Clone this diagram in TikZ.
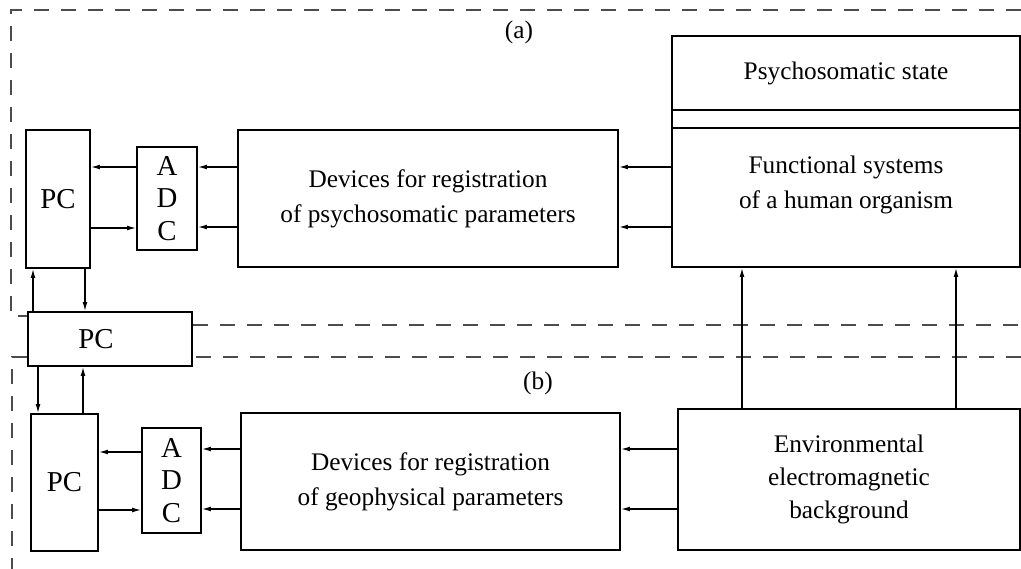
\documentclass[tikz,border=0pt]{standalone}
\usepackage{fontspec}
\setmainfont{Liberation Serif}
\usetikzlibrary{arrows.meta}

\begin{document}
\begin{tikzpicture}[x=0.025cm, y=-0.025cm,
        box/.style={draw, line width=1.4pt, inner sep=0pt, align=center,
            font=\fontsize{18}{25}\selectfont},
        arr/.style={-{Latex[length=2.2mm,width=1.2mm]}, line width=0.9pt},
        frame/.style={draw=black!70, line width=1.4pt, dash pattern=on 0.375cm off 0.3cm}]
    \useasboundingbox (0,0) rectangle (1021,569);

    % Part (a)
    \node[box, minimum width=1.6cm, minimum height=3.45cm, font=\fontsize{20.5}{24}\selectfont] (pcA) at (58,199) {PC};
    \node[box, minimum width=1.5cm, minimum height=2.575cm, font=\fontsize{20.5}{23}\selectfont] (adcA) at (167,198.5) {A\\D\\C};
    \node[box, minimum width=9.5cm, minimum height=3.425cm] (devA) at (428,198.5)
        {Devices for registration\\of psychosomatic parameters};
    \node[box, minimum width=8.7cm, minimum height=1.85cm] (state) at (846,73) {Psychosomatic state};
    \node[box, minimum width=8.7cm, minimum height=0.45cm] (band) at (846,119) {};
    \node[box, minimum width=8.7cm, minimum height=3.475cm] (org) at (846,197.5) {};
    \node[align=center, font=\fontsize{18}{25.5}\selectfont] at (846,185)
        {Functional systems\\of a human organism};
    \node[font=\fontsize{18}{22}\selectfont] (labA) at (519,32) {(a)};

    % Common PC
    \node[box, minimum width=4.1cm, minimum height=1.35cm, font=\fontsize{20.5}{24}\selectfont] (pc) at (110,339) {PC\hspace{0.7cm}};

    % Part (b)
    \node[box, minimum width=1.675cm, minimum height=3.425cm, font=\fontsize{20.5}{24}\selectfont] (pcB) at (64.5,482.5) {PC};
    \node[box, minimum width=1.475cm, minimum height=2.625cm, font=\fontsize{20.5}{23}\selectfont] (adcB) at (171.5,480.5) {A\\D\\C};
    \node[box, minimum width=9.475cm, minimum height=3.425cm] (devB) at (430.5,481.5)
        {Devices for registration\\of geophysical parameters};
    \node[box, minimum width=8.55cm, minimum height=3.525cm, font=\fontsize{18}{23.5}\selectfont] (env) at (849,479.5)
        {Environmental\\electromagnetic\\background};
    \node[font=\fontsize{18}{22}\selectfont] (labB) at (538,383) {(b)};

    % Dashed frames
    \draw[frame] (1021,10) -- (11,10) -- (11,316) -- (pc.west |- 0,316);
    \draw[frame] (pc.east |- 0,325) -- (1021,325);
    \draw[frame] (1021,357) -- (pc.east |- 0,357);
    \draw[frame] (pc.west |- 0,357) -- (12,357) -- (12,569);

    % Signal flow (a)
    \foreach \y in {167,227} {
        \draw[arr] (org.west |- 0,\y) -- (devA.east |- 0,\y);
        \draw[arr] (devA.west |- 0,\y) -- (adcA.east |- 0,\y);
    }
    \draw[arr] (adcA.west |- 0,167) -- (pcA.east |- 0,167);
    \draw[arr] (pcA.east |- 0,228) -- (adcA.west |- 0,228);

    % Signal flow (b)
    \foreach \y in {449,509} {
        \draw[arr] (env.west |- 0,\y) -- (devB.east |- 0,\y);
        \draw[arr] (devB.west |- 0,\y) -- (adcB.east |- 0,\y);
    }
    \draw[arr] (adcB.west |- 0,452) -- (pcB.east |- 0,452);
    \draw[arr] (pcB.east |- 0,510) -- (adcB.west |- 0,510);

    % Background acts on the organism
    \foreach \x in {742,956}
        \draw[arr] (env.north -| \x,0) -- (org.south -| \x,0);

    % Links between the computers
    \draw[arr] (pc.north -| 33,0) -- (pcA.south -| 33,0);
    \draw[arr] (pcA.south -| 85,0) -- (pc.north -| 85,0);
    \draw[arr] (pc.south -| 38,0) -- (pcB.north -| 38,0);
    \draw[arr] (pcB.north -| 83,0) -- (pc.south -| 83,0);
\end{tikzpicture}
\end{document}
